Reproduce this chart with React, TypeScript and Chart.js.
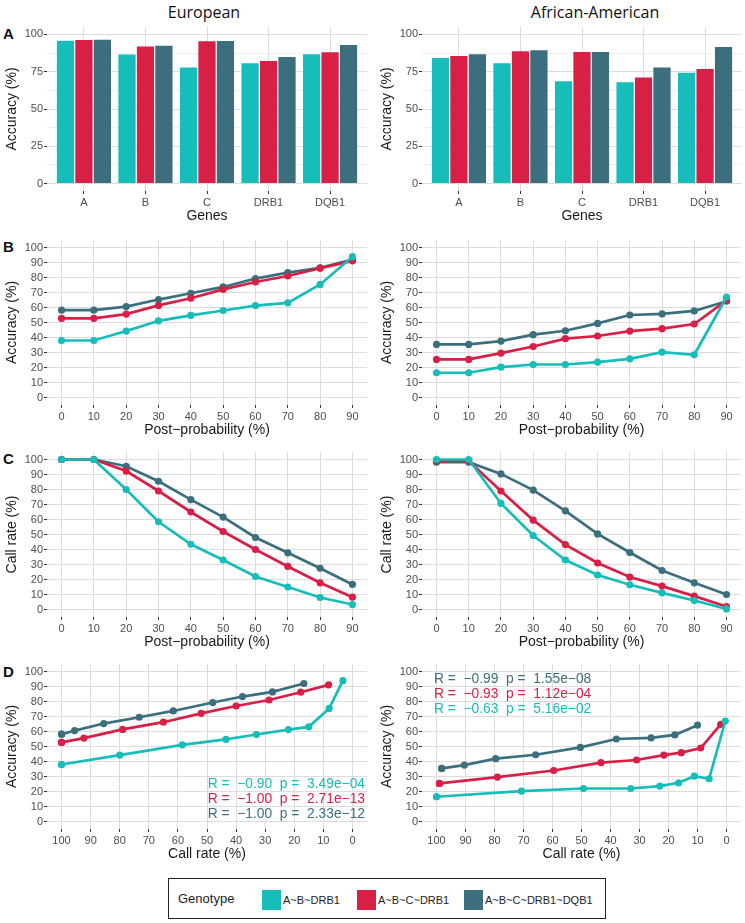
import React, { useEffect, useRef } from 'react';
import { Chart, registerables } from 'chart.js';

Chart.register(...registerables);

const FONT = '"Liberation Sans", Arial, Helvetica, sans-serif';
const TITLE_FONT = '"Open Sans", "Liberation Sans", Arial, sans-serif';

const TEAL = '#17BDB8';
const RED = '#D81F46';
const SLATE = '#3B6F7E';
const COLORS = [TEAL, RED, SLATE];

const GRID = '#DCDCDC';
const GRID_MINOR = '#EFEFEF';
const TICK_MARK = '#333333';
const TICK_TEXT = '#4D4D4D';
const AXIS_TITLE = '#1A1A1A';

// ---------- data ----------
const GENOTYPES = ['A~B~DRB1', 'A~B~C~DRB1', 'A~B~C~DRB1~DQB1'];
const GENES = ['A', 'B', 'C', 'DRB1', 'DQB1'];
const GENE_POS = [1, 2, 3, 4, 5];
const BAR_Y_TICKS = [0, 12.5, 25, 37.5, 50, 62.5, 75, 87.5, 100];
const PCT_TICKS = [0, 10, 20, 30, 40, 50, 60, 70, 80, 90, 100];
const POST_PROB = [0, 10, 20, 30, 40, 50, 60, 70, 80, 90];

// Panel A: per-gene accuracy (%)
const EU_GENE_ABDRB1 = [96.2, 86.9, 78.2, 81.1, 87.1];
const EU_GENE_ABCDRB1 = [96.7, 92.4, 95.8, 82.6, 88.4];
const EU_GENE_ABCDRB1DQB1 = [96.9, 92.9, 96.0, 85.3, 93.3];
const AA_GENE_ABDRB1 = [84.6, 81.1, 69.0, 68.4, 74.8];
const AA_GENE_ABCDRB1 = [86.0, 89.1, 88.6, 71.5, 77.3];
const AA_GENE_ABCDRB1DQB1 = [87.1, 89.8, 88.6, 78.2, 92.0];

// Panel B: accuracy (%) vs post-probability
const EU_ACC_ABDRB1 = [38.0, 38.0, 44.3, 51.1, 54.7, 58.0, 61.3, 63.1, 75.4, 93.9];
const EU_ACC_ABCDRB1 = [52.7, 52.7, 55.6, 61.4, 66.2, 72.1, 77.0, 81.0, 86.2, 91.1];
const EU_ACC_ABCDRB1DQB1 = [58.2, 58.2, 60.6, 65.3, 69.5, 73.7, 79.3, 83.3, 86.4, 92.0];
const AA_ACC_ABDRB1 = [16.5, 16.5, 20.2, 22.0, 22.0, 23.6, 25.8, 30.2, 28.5, 67.0];
const AA_ACC_ABCDRB1 = [25.4, 25.4, 29.6, 34.0, 39.2, 41.0, 44.3, 45.9, 49.0, 64.8];
const AA_ACC_ABCDRB1DQB1 = [35.4, 35.4, 37.6, 41.9, 44.5, 49.4, 55.0, 55.7, 57.7, 64.2];

// Panel C: call rate (%) vs post-probability
const EU_CALL_ABDRB1 = [100, 100, 80.0, 58.5, 43.5, 33.0, 22.0, 15.0, 8.0, 3.3];
const EU_CALL_ABCDRB1 = [100, 100, 92.3, 79.0, 65.0, 52.0, 40.0, 28.7, 17.8, 8.2];
const EU_CALL_ABCDRB1DQB1 = [100, 100, 95.5, 85.5, 73.3, 61.6, 48.0, 37.8, 27.5, 16.7];
const AA_CALL_ABDRB1 = [100, 100, 70.7, 49.3, 33.0, 23.0, 16.5, 11.1, 6.0, 0.4];
const AA_CALL_ABCDRB1 = [99.0, 99.0, 79.0, 59.6, 43.3, 31.0, 21.6, 15.6, 8.9, 2.0];
const AA_CALL_ABCDRB1DQB1 = [98.2, 98.2, 90.4, 79.6, 65.8, 50.4, 38.0, 26.0, 17.8, 10.0];

// Panel D: correlation labels
const EU_COR_TEXT = [
  'R =  \u22120.90  p =  3.49e\u221204',
  'R =  \u22121.00  p =  2.71e\u221213',
  'R =  \u22121.00  p =  2.33e\u221212',
];
const EU_COR_COLORS = [TEAL, RED, SLATE];
const AA_COR_TEXT = [
  'R =  \u22120.99  p =  1.55e\u221208',
  'R =  \u22120.93  p =  1.12e\u221204',
  'R =  \u22120.63  p =  5.16e\u221202',
];
const AA_COR_COLORS = [SLATE, RED, TEAL];

// ---------- helpers ----------
type Col = { left: number; width: number; yW: number; padR: number; titlePad: number };
const LEFT_COL: Col = { left: 0, width: 372, yW: 47, padR: 5, titlePad: 3.5 };
const RIGHT_COL: Col = { left: 372, width: 373, yW: 50, padR: 3, titlePad: 6.5 };

type Row = { chartTop: number; chartBottom: number };
const ROW_A: Row = { chartTop: 27, chartBottom: 191 };
const ROW_B: Row = { chartTop: 240, chartBottom: 405 };
const ROW_C: Row = { chartTop: 452, chartBottom: 617 };
const ROW_D: Row = { chartTop: 664, chartBottom: 829 };
const PAD_TOP = 10;
const X_AXIS_H = 34;
const AXIS_TITLE_SIZE = 14;

function yScale(ticks: number[], isMajor: (v: number) => boolean, title: string, col: Col) {
  return {
    type: 'linear',
    min: -5,
    max: 105,
    afterBuildTicks: (s: any) => {
      s.ticks = ticks.map((v) => ({ value: v }));
    },
    afterFit: (s: any) => {
      s.width = col.yW;
    },
    grid: {
      color: (c: any) => (c.tick && isMajor(c.tick.value) ? GRID : GRID_MINOR),
      lineWidth: 1,
      drawTicks: true,
      tickLength: 3,
      tickColor: (c: any) => (c.tick && isMajor(c.tick.value) ? TICK_MARK : 'rgba(0,0,0,0)'),
    },
    border: { display: false },
    ticks: {
      autoSkip: false,
      padding: 1,
      color: TICK_TEXT,
      font: { size: 11, family: FONT },
      callback: (v: any) => (isMajor(Number(v)) ? String(v) : ''),
    },
    title: {
      display: true,
      text: title,
      color: AXIS_TITLE,
      font: { size: AXIS_TITLE_SIZE, family: FONT },
      padding: { top: col.titlePad, bottom: 0 },
    },
  };
}

function xScale(min: number, max: number, ticks: number[], title: string, reverse: boolean, label?: (v: number) => string) {
  return {
    type: 'linear',
    min,
    max,
    reverse,
    offset: false,
    afterBuildTicks: (s: any) => {
      s.ticks = ticks.map((v) => ({ value: v }));
    },
    afterFit: (s: any) => {
      s.height = X_AXIS_H;
    },
    grid: {
      offset: false,
      color: GRID,
      lineWidth: 1,
      drawTicks: true,
      tickLength: 3,
      tickColor: TICK_MARK,
    },
    border: { display: false },
    ticks: {
      autoSkip: false,
      maxRotation: 0,
      padding: 2,
      color: TICK_TEXT,
      font: { size: 11, family: FONT },
      callback: (v: any) => (label ? label(Number(v)) : String(v)),
    },
    title: {
      display: true,
      text: title,
      color: AXIS_TITLE,
      font: { size: AXIS_TITLE_SIZE, family: FONT },
      padding: { top: 0, bottom: 0 },
    },
  };
}

function baseOptions(col: Col) {
  return {
    responsive: false,
    animation: false,
    devicePixelRatio: 1,
    layout: { padding: { top: PAD_TOP, right: col.padR, bottom: 0, left: 0 } },
    plugins: { legend: { display: false }, tooltip: { enabled: false }, title: { display: false } },
  };
}

function barConfig(series: number[][], col: Col) {
  return {
    type: 'bar',
    data: {
      datasets: series.map((vals, k) => ({
        label: GENOTYPES[k],
        data: vals.map((v, i) => ({ x: GENE_POS[i], y: v })),
        backgroundColor: COLORS[k],
        borderColor: 'rgba(255,255,255,0.35)',
        borderWidth: 0.6,
        categoryPercentage: 0.9,
        barPercentage: 1.0,
      })),
    },
    options: {
      ...baseOptions(col),
      scales: {
        x: xScale(0.4, 5.6, GENE_POS, 'Genes', false, (v) => GENES[v - 1] ?? ''),
        y: yScale(BAR_Y_TICKS, (v) => v % 25 === 0, 'Accuracy (%)', col),
      },
    },
  };
}

function lineDatasets(xs: number[][], ys: number[][]) {
  return ys.map((yv, k) => ({
    label: GENOTYPES[k],
    data: yv.map((y, i) => ({ x: xs[k][i], y })),
    borderColor: COLORS[k],
    backgroundColor: COLORS[k],
    pointBackgroundColor: COLORS[k],
    pointBorderWidth: 0,
    pointRadius: 3.6,
    borderWidth: 2.7,
    tension: 0,
    clip: false,
  }));
}

function corPlugin(texts: string[], colors: string[], side: 'br' | 'tl') {
  return {
    id: 'corText',
    afterDatasetsDraw(chart: any) {
      const { ctx, chartArea } = chart;
      ctx.save();
      ctx.font = `13.8px ${FONT}`;
      ctx.textBaseline = 'middle';
      texts.forEach((t, i) => {
        ctx.fillStyle = colors[i];
        if (side === 'br') {
          ctx.textAlign = 'right';
          ctx.fillText(t, chartArea.right - 2, chartArea.bottom - 45 + i * 14.9);
        } else {
          ctx.textAlign = 'left';
          ctx.fillText(t, chartArea.left + 12, chartArea.top + 15.3 + i * 14.7);
        }
      });
      ctx.restore();
    },
  };
}

function lineConfig(
  xs: number[][],
  ys: number[][],
  col: Col,
  kind: 'post' | 'call',
  yTitle: string,
  plugin?: any
) {
  const x =
    kind === 'post'
      ? xScale(-4.5, 94.5, POST_PROB, 'Post\u2212probability (%)', false)
      : xScale(-5, 105, PCT_TICKS, 'Call rate (%)', true);
  return {
    type: 'line',
    data: { datasets: lineDatasets(xs, ys) },
    options: {
      ...baseOptions(col),
      scales: {
        x,
        y: yScale(PCT_TICKS, () => true, yTitle, col),
      },
    },
    plugins: plugin ? [plugin] : [],
  };
}

function ChartCanvas({ col, row, build }: { col: Col; row: Row; build: () => any }) {
  const ref = useRef<HTMLCanvasElement>(null);
  const top = row.chartTop - PAD_TOP;
  const height = row.chartBottom + X_AXIS_H - top;
  useEffect(() => {
    if (!ref.current) return;
    const chart = new Chart(ref.current, build());
    return () => chart.destroy();
  }, []);
  return (
    <canvas
      ref={ref}
      width={col.width}
      height={height}
      style={{ position: 'absolute', left: col.left, top, width: col.width, height }}
    />
  );
}

const post3 = [POST_PROB, POST_PROB, POST_PROB];

export default function App() {
  useEffect(() => {
    document.body.style.margin = '0';
  }, []);

  const letter = (ch: string, cy: number) => (
    <div
      style={{
        position: 'absolute',
        left: 3,
        top: cy - 9,
        height: 18,
        lineHeight: '18px',
        fontFamily: FONT,
        fontWeight: 'bold',
        fontSize: 15,
        color: '#111',
      }}
    >
      {ch}
    </div>
  );

  const colTitle = (text: string, cx: number) => (
    <div
      style={{
        position: 'absolute',
        left: cx - 150,
        width: 300,
        top: 1,
        height: 22,
        lineHeight: '22px',
        textAlign: 'center',
        fontFamily: TITLE_FONT,
        fontSize: 16,
        color: '#111',
      }}
    >
      {text}
    </div>
  );

  const swatch = (x: number, color: string, label: string) => (
    <React.Fragment key={label}>
      <div
        style={{
          position: 'absolute',
          left: x - 168,
          top: 889 - 878,
          width: 19,
          height: 20,
          background: color,
        }}
      />
      <div
        style={{
          position: 'absolute',
          left: x - 168 + 21,
          top: 889 - 878,
          height: 20,
          lineHeight: '20px',
          fontFamily: FONT,
          fontSize: 11,
          color: '#222',
          whiteSpace: 'nowrap',
        }}
      >
        {label}
      </div>
    </React.Fragment>
  );

  return (
    <div style={{ position: 'relative', width: 745, height: 923, background: '#fff', overflow: 'hidden' }}>
      {colTitle('European', 204)}
      {colTitle('African-American', 595)}
      {letter('A', 34)}
      {letter('B', 247)}
      {letter('C', 459)}
      {letter('D', 672)}

      <ChartCanvas
        col={LEFT_COL}
        row={ROW_A}
        build={() => barConfig([EU_GENE_ABDRB1, EU_GENE_ABCDRB1, EU_GENE_ABCDRB1DQB1], LEFT_COL)}
      />
      <ChartCanvas
        col={RIGHT_COL}
        row={ROW_A}
        build={() => barConfig([AA_GENE_ABDRB1, AA_GENE_ABCDRB1, AA_GENE_ABCDRB1DQB1], RIGHT_COL)}
      />

      <ChartCanvas
        col={LEFT_COL}
        row={ROW_B}
        build={() =>
          lineConfig(post3, [EU_ACC_ABDRB1, EU_ACC_ABCDRB1, EU_ACC_ABCDRB1DQB1], LEFT_COL, 'post', 'Accuracy (%)')
        }
      />
      <ChartCanvas
        col={RIGHT_COL}
        row={ROW_B}
        build={() =>
          lineConfig(post3, [AA_ACC_ABDRB1, AA_ACC_ABCDRB1, AA_ACC_ABCDRB1DQB1], RIGHT_COL, 'post', 'Accuracy (%)')
        }
      />

      <ChartCanvas
        col={LEFT_COL}
        row={ROW_C}
        build={() =>
          lineConfig(post3, [EU_CALL_ABDRB1, EU_CALL_ABCDRB1, EU_CALL_ABCDRB1DQB1], LEFT_COL, 'post', 'Call rate (%)')
        }
      />
      <ChartCanvas
        col={RIGHT_COL}
        row={ROW_C}
        build={() =>
          lineConfig(post3, [AA_CALL_ABDRB1, AA_CALL_ABCDRB1, AA_CALL_ABCDRB1DQB1], RIGHT_COL, 'post', 'Call rate (%)')
        }
      />

      <ChartCanvas
        col={LEFT_COL}
        row={ROW_D}
        build={() =>
          lineConfig(
            [EU_CALL_ABDRB1, EU_CALL_ABCDRB1, EU_CALL_ABCDRB1DQB1],
            [EU_ACC_ABDRB1, EU_ACC_ABCDRB1, EU_ACC_ABCDRB1DQB1],
            LEFT_COL,
            'call',
            'Accuracy (%)',
            corPlugin(EU_COR_TEXT, EU_COR_COLORS, 'br')
          )
        }
      />
      <ChartCanvas
        col={RIGHT_COL}
        row={ROW_D}
        build={() =>
          lineConfig(
            [AA_CALL_ABDRB1, AA_CALL_ABCDRB1, AA_CALL_ABCDRB1DQB1],
            [AA_ACC_ABDRB1, AA_ACC_ABCDRB1, AA_ACC_ABCDRB1DQB1],
            RIGHT_COL,
            'call',
            'Accuracy (%)',
            corPlugin(AA_COR_TEXT, AA_COR_COLORS, 'tl')
          )
        }
      />

      <div
        style={{
          position: 'absolute',
          left: 168,
          top: 878,
          width: 438,
          height: 41,
          boxSizing: 'border-box',
          border: '1.5px solid #222',
          background: '#fff',
        }}
      >
        <div
          style={{
            position: 'absolute',
            left: 9,
            top: 10,
            height: 20,
            lineHeight: '20px',
            fontFamily: FONT,
            fontSize: 13,
            color: '#222',
          }}
        >
          Genotype
        </div>
        {swatch(261, TEAL, GENOTYPES[0])}
        {swatch(356, RED, GENOTYPES[1])}
        {swatch(463, SLATE, GENOTYPES[2])}
      </div>
    </div>
  );
}
